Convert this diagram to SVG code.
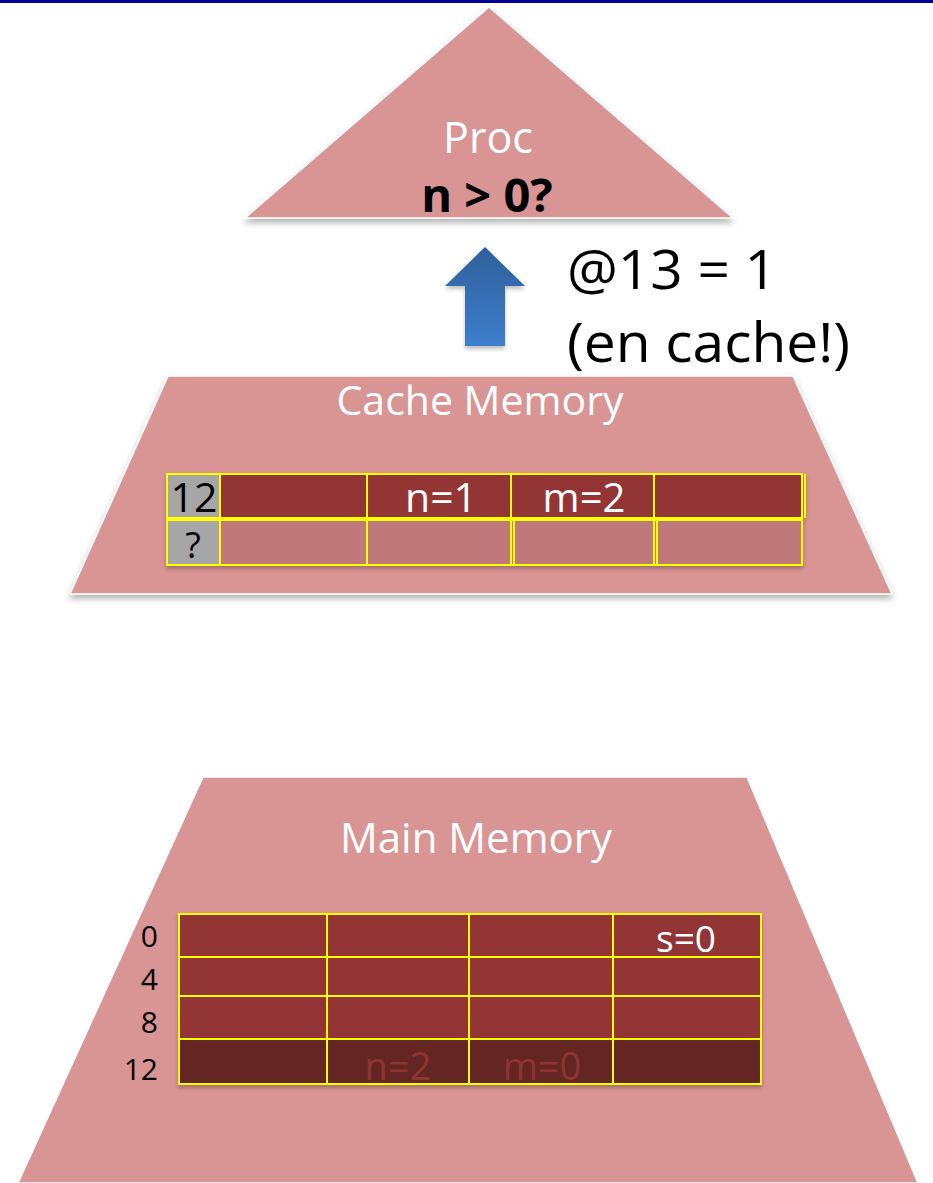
<svg xmlns="http://www.w3.org/2000/svg" width="933" height="1183" viewBox="0 0 933 1183">
<style>
.pink{fill:#d99594;stroke:#ffffff;stroke-width:1.5}
.t{font-family:"Open Sans","Liberation Sans",sans-serif}
.w{fill:#ffffff}
.k{fill:#000000}
.c1{fill:#943634;stroke:#ffff00;stroke-width:2}
.c2{fill:#c0797a;stroke:#ffff00;stroke-width:2}
.c3{fill:#632523;stroke:#ffff00;stroke-width:2}
.tag{fill:#a6a6a6;stroke:#ffff00;stroke-width:2}
.yl{stroke:#ffff00;stroke-width:2;fill:none}
</style>
<defs>
<filter id="sh" x="-10%" y="-10%" width="120%" height="130%">
<feDropShadow dx="0" dy="4" stdDeviation="3" flood-color="#000" flood-opacity="0.3"/>
</filter>
<filter id="sh2" x="-10%" y="-10%" width="120%" height="130%">
<feDropShadow dx="0" dy="3" stdDeviation="2" flood-color="#000" flood-opacity="0.25"/>
</filter>
<linearGradient id="ag" x1="0" y1="0" x2="0" y2="1">
<stop offset="0" stop-color="#2f5f9c"/>
<stop offset="1" stop-color="#3d7fcc"/>
</linearGradient>
</defs>
<rect x="0" y="0" width="933" height="3" fill="#00009c"/>
<g id="proc">
<polygon class="pink" points="489,7 733,218 245,218" filter="url(#sh)"/>
<text class="t w" x="488" y="153" font-size="43" text-anchor="middle">Proc</text>
<text class="t k" x="487" y="212" font-size="47" font-weight="bold" text-anchor="middle">n &gt; 0?</text>
</g>
<g id="connectors">
<polygon points="485,247 525,286 505,286 505,346 465,346 465,286 445,286" fill="url(#ag)" filter="url(#sh2)"/>
</g>
<g id="label">
<text class="t k" x="567" y="289" font-size="55" textLength="210" lengthAdjust="spacingAndGlyphs">@13 = 1</text>
<text class="t k" x="567" y="362" font-size="55" textLength="283" lengthAdjust="spacingAndGlyphs">(en cache!)</text>
</g>
<g id="cache">
<polygon class="pink" points="168,376 793,376 892,594 70,594" filter="url(#sh)"/>
<text class="t w" x="480" y="415" font-size="41" text-anchor="middle">Cache Memory</text>
<g filter="url(#sh2)">
<rect class="tag" x="167" y="474" width="53" height="44"/>
<rect class="c1" x="220" y="474" width="147" height="44"/>
<rect class="c1" x="367" y="474" width="144" height="44"/>
<rect class="c1" x="511" y="474" width="143" height="44"/>
<rect class="c1" x="654" y="474" width="148" height="44"/>
<line class="yl" x1="805" y1="474" x2="805" y2="518"/>
<rect class="tag" x="167" y="520" width="53" height="45"/>
<rect class="c2" x="220" y="520" width="147" height="45"/>
<rect class="c2" x="367" y="520" width="147" height="45"/>
<rect class="c2" x="514" y="520" width="143" height="45"/>
<rect class="c2" x="657" y="520" width="145" height="45"/>
<line class="yl" x1="511" y1="520" x2="511" y2="565"/>
<line class="yl" x1="654" y1="520" x2="654" y2="565"/>
</g>
<text class="t k" x="194" y="512" font-size="41" text-anchor="middle">12</text>
<text class="t k" x="193" y="558" font-size="36" text-anchor="middle">?</text>
<text class="t w" x="441" y="512" font-size="41" text-anchor="middle">n=1</text>
<text class="t w" x="584" y="512" font-size="40" text-anchor="middle">m=2</text>
</g>
<g id="main">
<polygon class="pink" points="203,777 747,777 918,1183 18,1183"/>
<text class="t w" x="476" y="853" font-size="42" text-anchor="middle">Main Memory</text>
<g filter="url(#sh2)">
<rect class="c1" x="179" y="914" width="148" height="43"/>
<rect class="c1" x="327" y="914" width="142" height="43"/>
<rect class="c1" x="469" y="914" width="144" height="43"/>
<rect class="c1" x="613" y="914" width="148" height="43"/>
<rect class="c1" x="179" y="957" width="148" height="39"/>
<rect class="c1" x="327" y="957" width="142" height="39"/>
<rect class="c1" x="469" y="957" width="144" height="39"/>
<rect class="c1" x="613" y="957" width="148" height="39"/>
<rect class="c1" x="179" y="996" width="148" height="43"/>
<rect class="c1" x="327" y="996" width="142" height="43"/>
<rect class="c1" x="469" y="996" width="144" height="43"/>
<rect class="c1" x="613" y="996" width="148" height="43"/>
<rect class="c3" x="179" y="1039" width="148" height="45"/>
<rect class="c3" x="327" y="1039" width="142" height="45"/>
<rect class="c3" x="469" y="1039" width="144" height="45"/>
<rect class="c3" x="613" y="1039" width="148" height="45"/>
</g>
<text class="t k" x="158" y="947" font-size="30" text-anchor="end">0</text>
<text class="t k" x="158" y="990" font-size="30" text-anchor="end">4</text>
<text class="t k" x="158" y="1033" font-size="30" text-anchor="end">8</text>
<text class="t k" x="158" y="1080" font-size="30" text-anchor="end">12</text>
<text class="t w" x="686" y="952" font-size="37" text-anchor="middle">s=0</text>
<text class="t" x="398" y="1080" font-size="38" text-anchor="middle" fill="#8e3533">n=2</text>
<text class="t" x="542" y="1080" font-size="38" text-anchor="middle" fill="#8e3533">m=0</text>
</g>
</svg>
